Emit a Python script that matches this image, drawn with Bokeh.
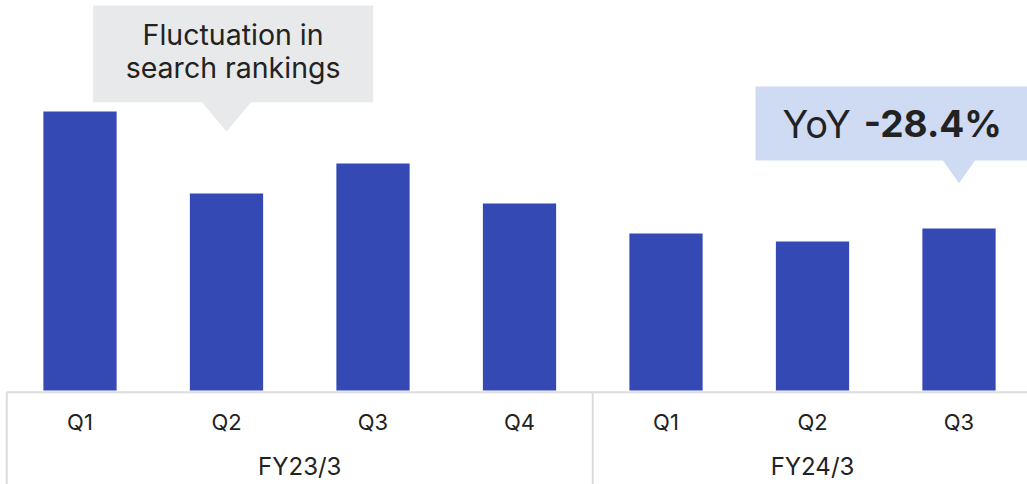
from bokeh.plotting import figure
from bokeh.models import Range1d
from bokeh.core.properties import value
from bokeh.embed import file_html
from bokeh.resources import INLINE

# ---- data ----
quarters = ["Q1", "Q2", "Q3", "Q4", "Q1", "Q2", "Q3"]
fiscal_years = ["FY23/3", "FY24/3"]
year_sizes = [4, 3]
values = [279, 197, 227, 187, 157, 149, 162]
note_lines = ["Fluctuation in", "search rankings"]
note_index = 1
yoy_prefix = "YoY"
yoy_value = "-28.4%"
yoy_index = 6

# ---- styling ----
BAR = "#3549b4"
GRAY_BOX = "#e8e9eb"
BLUE_BOX = "#cedbf3"
LINE = "#dcdcdc"
TXT = "#222222"
FONT = value("Inter")

W, H = 1027, 484
PX = 146.5
x_start = -79.5 / PX
x_end = x_start + W / PX
y_top = 390
y_bottom = y_top - H

p = figure(width=W, height=H, x_range=Range1d(x_start, x_end),
           y_range=Range1d(y_bottom, y_top), output_backend="svg",
           toolbar_location=None, x_axis_location=None, y_axis_location=None,
           min_border=0)
p.grid.visible = False
p.outline_line_color = None
p.background_fill_color = "white"

idx = list(range(len(values)))

# bars
p.vbar(x=idx, top=values, bottom=0, width=0.5, fill_color=BAR, line_color=None)

# axis frame lines
p.segment(x0=[-0.5], y0=[-1.7], x1=[x_end], y1=[-1.7], line_color=LINE, line_width=2)
bounds = [-0.5]
acc = -0.5
for s in year_sizes[:-1]:
    acc += s
    bounds.append(acc)
p.segment(x0=bounds, y0=[-1.7] * len(bounds), x1=bounds, y1=[y_bottom] * len(bounds),
          line_color=LINE, line_width=2)

# quarter labels
p.text(x=idx, y=[-31] * len(idx), text=quarters, text_align="center",
       text_baseline="alphabetic", text_font=FONT, text_font_size="22px", text_color=TXT)

# fiscal year labels
centers = []
start = 0
for s in year_sizes:
    centers.append(start + (s - 1) / 2)
    start += s
p.text(x=centers, y=[-75.5] * len(centers), text=fiscal_years, text_align="center",
       text_baseline="alphabetic", text_font=FONT, text_font_size="24px", text_color=TXT)

# callout 1 (gray)
a = note_index
p.quad(left=[a - 0.910], right=[a + 1.001], bottom=[288.3], top=[385],
       fill_color=GRAY_BOX, line_color=None)
p.patch(x=[a - 0.174, a + 0.174, a], y=[289.5, 289.5, 259],
        fill_color=GRAY_BOX, line_color=None)
p.text(x=[a + 0.045, a + 0.045], y=[356, 323], text=note_lines, text_align="center",
       text_baseline="alphabetic", text_font=FONT, text_font_size="28.5px", text_color=TXT)

# callout 2 (blue)
b = yoy_index
p.quad(left=[b - 1.389], right=[b + 0.6], bottom=[230], top=[304],
       fill_color=BLUE_BOX, line_color=None)
p.patch(x=[b - 0.114, b + 0.114, b], y=[231, 231, 207.3],
        fill_color=BLUE_BOX, line_color=None)
p.text(x=[b - 1.205], y=[267], text=[yoy_prefix], text_align="left",
       text_baseline="alphabetic", text_font=FONT, text_font_size="38px", text_color=TXT)
p.text(x=[b - 0.65], y=[267], text=[yoy_value], text_align="left",
       text_baseline="alphabetic", text_font=FONT, text_font_size="37px",
       text_font_style="bold", text_color=TXT)

open("out.html", "w").write(file_html(p, INLINE))
